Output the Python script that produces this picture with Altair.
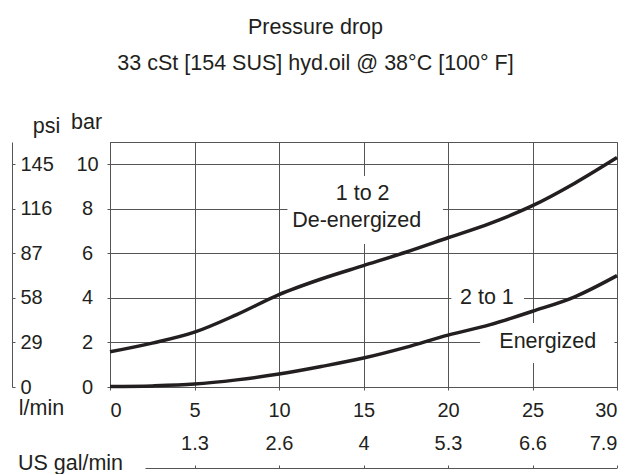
import altair as alt
import pandas as pd

# ---- data ----
flow = [0, 2.5, 5, 7.5, 10, 12.5, 15, 17.5, 20, 22.5, 25, 27.5, 30]          # l/min
deenergized = [1.58, 1.97, 2.46, 3.25, 4.15, 4.85, 5.45, 6.05, 6.7, 7.35, 8.14, 9.15, 10.3]  # bar
energized = [0.02, 0.05, 0.13, 0.32, 0.58, 0.92, 1.3, 1.78, 2.33, 2.8, 3.4, 4.05, 5.0]      # bar

bar_ticks = [0, 2, 4, 6, 8, 10]
psi_labels = ["0", "29", "58", "87", "116", "145"]
lmin_ticks = [0, 5, 10, 15, 20, 25, 30]
gal_ticks = [5, 10, 15, 20, 25, 30]
gal_labels = ["1.3", "2.6", "4", "5.3", "6.6", "7.9"]
gal_line = [2.1, 30]   # extent of the US gal/min scale line, in l/min

label_text = ["1 to 2", "De-energized", "2 to 1", "Energized"]
label_x = [14.95, 14.6, 22.3, 25.9]
label_y = [8.65, 7.45, 4.0, 2.03]

box_x = [10.5, 20.2, 21.9]
box_x2 = [19.7, 24.5, 29.85]
box_y = [6.42, 3.5, 1.08]
box_y2 = [9.47, 4.5, 2.87]

FONT = "Liberation Sans"
INK = "#231f20"
GRID = "#555555"
TXT = 21.5
NUM = 20
GAL_OFFSET = 326

lines_df = pd.DataFrame({
    "flow": flow * 2,
    "dp": deenergized + energized,
    "series": ["1 to 2"] * len(flow) + ["2 to 1"] * len(flow),
})
labels_df = pd.DataFrame({"text": label_text, "x": label_x, "y": label_y})
boxes_df = pd.DataFrame({"x": box_x, "x2": box_x2, "y": box_y, "y2": box_y2})
galline_df = pd.DataFrame({"x": [gal_line[0]], "x2": [gal_line[1]]})

xs = alt.Scale(domain=[0, 30], nice=False, zero=False)
ys = alt.Scale(domain=[0, 11], nice=False)


def lookup_expr(vals, labs):
    v = "[" + ",".join(str(x) for x in vals) + "]"
    l = "[" + ",".join("'" + s + "'" for s in labs) + "]"
    return f"{l}[indexof({v}, datum.value)]"


boxes = alt.Chart(boxes_df).mark_rect(color="white").encode(
    x=alt.X("x:Q", scale=xs, axis=None),
    x2="x2",
    y=alt.Y("y:Q", scale=ys, axis=None),
    y2="y2",
)

curves = alt.Chart(lines_df).mark_line(
    color=INK, strokeWidth=3.5, interpolate="monotone"
).encode(
    x=alt.X("flow:Q", scale=xs, axis=alt.Axis(
        values=lmin_ticks, grid=True, tickSize=3, labelPadding=10,
        title="l/min", titleX=-69, titleY=21, titleAlign="center",
        titleBaseline="middle", titleAngle=0,
    )),
    y=alt.Y("dp:Q", scale=ys, axis=alt.Axis(
        values=bar_ticks, grid=True, tickSize=3, labelPadding=20,
        labelAlign="center", labelBaseline="middle",
        title="bar", titleX=-24, titleY=-14, titleAlign="center",
        titleBaseline="alphabetic", titleAngle=0,
    )),
    detail="series:N",
)

gal_rule = alt.Chart(galline_df).mark_rule(
    color=GRID, strokeWidth=1, clip=False
).encode(
    x=alt.X("x:Q", scale=xs, axis=None),
    x2="x2",
    y=alt.value(GAL_OFFSET + 0.5),
)

texts = alt.Chart(labels_df).mark_text(
    font=FONT, fontSize=TXT, color=INK, baseline="middle", align="center"
).encode(
    x=alt.X("x:Q", scale=xs, axis=alt.Axis(
        orient="top", offset=-GAL_OFFSET, values=gal_ticks,
        labelExpr=lookup_expr(gal_ticks, gal_labels),
        grid=False, domain=False, tickSize=3, labelPadding=12,
        title="US gal/min", titleX=-40, titleY=-5, titleAlign="center",
        titleBaseline="middle", titleAngle=0,
    )),
    y=alt.Y("y:Q", scale=ys, axis=alt.Axis(
        orient="right", offset=-605, values=bar_ticks,
        labelExpr=lookup_expr(bar_ticks, psi_labels),
        grid=False, tickSize=3, labelPadding=5, labelAlign="left",
        labelBaseline="middle",
        title="psi", titleX=34, titleY=-10, titleAlign="center",
        titleBaseline="alphabetic", titleAngle=0,
    )),
    text="text:N",
)

chart = alt.layer(boxes, curves, gal_rule, texts).resolve_axis(
    x="independent", y="independent"
).properties(
    width=507,
    height=245,
    autosize=alt.AutoSizeParams(type="none"),
    padding={"left": 102, "top": 134, "right": 7, "bottom": 87},
    title=alt.TitleParams(
        text="Pressure drop",
        subtitle="33 cSt [154 SUS] hyd.oil @ 38°C [100° F]",
        anchor="middle", frame="group", dx=-48, offset=37,
        font=FONT, fontSize=TXT, fontWeight="normal", color=INK,
        subtitleFont=FONT, subtitleFontSize=TXT, subtitleColor=INK,
        subtitlePadding=14,
    ),
).configure_view(
    stroke=GRID, strokeWidth=1
).configure_axis(
    gridColor=GRID, gridWidth=1, tickColor=GRID, domainColor=GRID,
    labelColor=INK, labelFont=FONT, labelFontSize=NUM,
    titleColor=INK, titleFont=FONT, titleFontSize=TXT, titleFontWeight="normal",
)

chart.save("out.html", embed_options={"renderer": "svg", "actions": False})
